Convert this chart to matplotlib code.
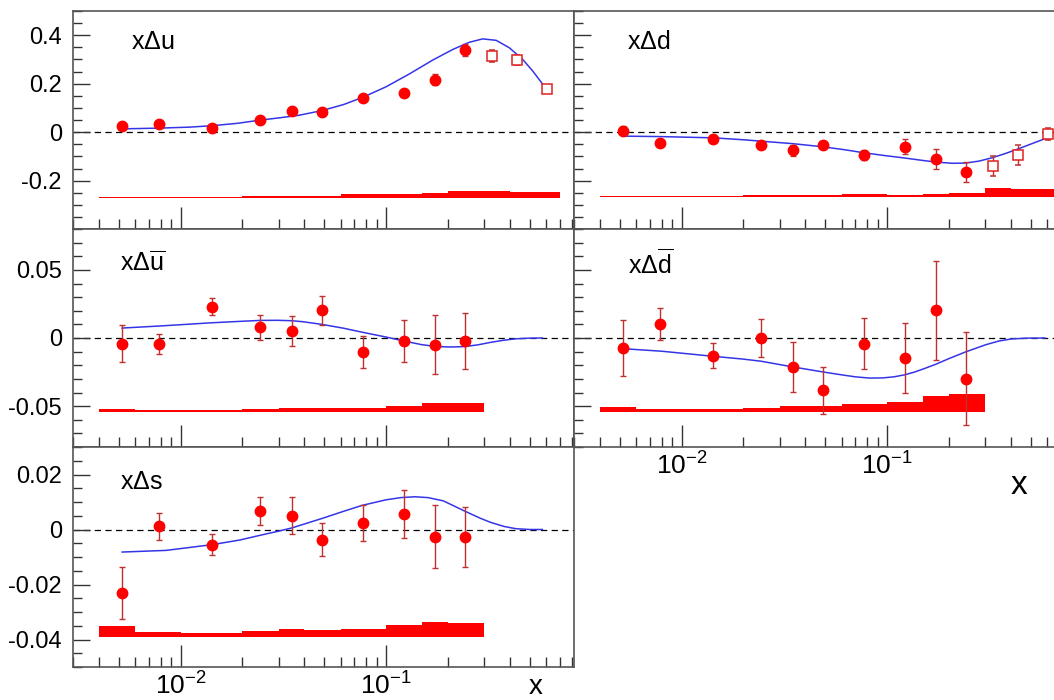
# Polarized PDFs from SIDIS: xDelta q for each flavour vs x
import matplotlib
matplotlib.use('Agg')
import matplotlib.pyplot as plt
import matplotlib.ticker as ticker
import numpy as np

plt.rcParams['font.family'] = ['Liberation Sans', 'DejaVu Sans']
plt.rcParams['mathtext.fontset'] = 'custom'
plt.rcParams['mathtext.rm'] = 'Liberation Sans'
plt.rcParams['axes.unicode_minus'] = False

# ---- data ----
x_pts = [0.0052, 0.0079, 0.0142, 0.0244, 0.0348, 0.0487, 0.0770, 0.122, 0.173, 0.242]
x_open = [0.326, 0.431, 0.605]

u_val = [0.026, 0.034, 0.018, 0.049, 0.088, 0.084, 0.141, 0.161, 0.217, 0.338]
u_err = [0.006, 0.006, 0.007, 0.008, 0.009, 0.009, 0.010, 0.012, 0.024, 0.024]
u_open_val = [0.315, 0.298, 0.180]
u_open_err = [0.024, 0.020, 0.006]

d_val = [0.007, -0.044, -0.029, -0.053, -0.075, -0.051, -0.095, -0.060, -0.111, -0.163]
d_err = [0.020, 0.008, 0.008, 0.010, 0.021, 0.010, 0.020, 0.031, 0.042, 0.041]
d_open_val = [-0.138, -0.095, -0.007]
d_open_err = [0.042, 0.041, 0.026]

ubar_val = [-0.0041, -0.0044, 0.0229, 0.0078, 0.0049, 0.0202, -0.0102, -0.0022, -0.0049, -0.0024]
ubar_err = [0.0135, 0.0072, 0.0063, 0.0091, 0.0111, 0.0107, 0.0118, 0.0156, 0.0215, 0.0206]

dbar_val = [-0.0076, 0.0105, -0.0129, 0.0, -0.0210, -0.0383, -0.0041, -0.0146, 0.0202, -0.0298]
dbar_err = [0.0206, 0.0118, 0.0093, 0.0138, 0.0183, 0.0173, 0.0185, 0.0257, 0.0366, 0.0339]

s_val = [-0.0232, 0.0012, -0.0055, 0.0067, 0.0050, -0.0037, 0.0024, 0.0057, -0.0026, -0.0028]
s_err = [0.0094, 0.0049, 0.0037, 0.0050, 0.0067, 0.0061, 0.0064, 0.0087, 0.0115, 0.0110]

# fit curves
u_fit_x = [0.0052, 0.0079, 0.0110, 0.0143, 0.019, 0.0244, 0.030, 0.0377, 0.0486, 0.062, 0.077,
           0.0997, 0.1295, 0.168, 0.2105, 0.254, 0.295, 0.343, 0.398, 0.462, 0.517, 0.579, 0.608]
u_fit_y = [0.014, 0.017, 0.021, 0.027, 0.037, 0.050, 0.059, 0.070, 0.089, 0.114, 0.144,
           0.187, 0.240, 0.297, 0.341, 0.371, 0.385, 0.379, 0.348, 0.300, 0.252, 0.197, 0.180]

d_fit_x = [0.00516, 0.0080, 0.0142, 0.0200, 0.0245, 0.0347, 0.0487, 0.0620, 0.0762, 0.097, 0.121,
           0.148, 0.173, 0.208, 0.241, 0.280, 0.325, 0.375, 0.427, 0.510, 0.601]
d_fit_y = [-0.016, -0.018, -0.023, -0.031, -0.037, -0.047, -0.060, -0.072, -0.084, -0.096, -0.106,
           -0.116, -0.123, -0.128, -0.127, -0.119, -0.105, -0.088, -0.071, -0.046, -0.023]

ubar_fit_x = [0.0052, 0.0079, 0.0143, 0.0200, 0.0244, 0.0295, 0.0345, 0.0391, 0.0487, 0.062, 0.0767,
              0.1, 0.122, 0.148, 0.173, 0.205, 0.241, 0.280, 0.322, 0.375, 0.427, 0.50, 0.575]
ubar_fit_y = [0.0073, 0.0088, 0.0112, 0.0123, 0.0129, 0.0130, 0.0127, 0.0120, 0.0100, 0.0072, 0.0042,
              0.0007, -0.0022, -0.0048, -0.0062, -0.0066, -0.0063, -0.0050, -0.0032, -0.0016, -0.0006, -0.0001, 0.0]

dbar_fit_x = [0.00516, 0.0080, 0.0142, 0.0200, 0.0245, 0.0347, 0.0487, 0.0598, 0.0700, 0.0820, 0.095,
              0.108, 0.121, 0.136, 0.152, 0.173, 0.2, 0.241, 0.301, 0.350, 0.402, 0.48, 0.585]
dbar_fit_y = [-0.0078, -0.0097, -0.0134, -0.0155, -0.0171, -0.0212, -0.0249, -0.0270, -0.0285, -0.0294, -0.0293,
              -0.0285, -0.0271, -0.0250, -0.0224, -0.0192, -0.0151, -0.0102, -0.0050, -0.0022, -0.0007, -0.0001, 0.0]

s_fit_x = [0.0052, 0.0085, 0.0143, 0.0195, 0.0244, 0.0300, 0.0349, 0.0487, 0.062, 0.0767, 0.1, 0.118,
           0.138, 0.16, 0.190, 0.241, 0.285, 0.322, 0.375, 0.427, 0.50, 0.575]
s_fit_y = [-0.0082, -0.0076, -0.0055, -0.0038, -0.0021, -0.0006, 0.0006, 0.0040, 0.0066, 0.0088, 0.0108, 0.0116,
           0.0119, 0.0116, 0.0104, 0.0067, 0.0042, 0.0026, 0.0011, 0.0003, 0.0, 0.0]

# systematic bands (bin edges, baseline, height)
edges_val = [0.004, 0.006, 0.01, 0.02, 0.03, 0.04, 0.06, 0.1, 0.15, 0.2, 0.3, 0.4, 0.7]
edges_sea = [0.004, 0.006, 0.01, 0.02, 0.03, 0.04, 0.06, 0.1, 0.15, 0.2, 0.3]
u_band = [0.005, 0.005, 0.005, 0.008, 0.008, 0.008, 0.014, 0.014, 0.019, 0.026, 0.026, 0.022]
d_band = [0.005, 0.005, 0.005, 0.008, 0.008, 0.008, 0.012, 0.008, 0.012, 0.016, 0.038, 0.033]
ubar_band = [0.0024, 0.0017, 0.0017, 0.0022, 0.0032, 0.0032, 0.0032, 0.0046, 0.0066, 0.0066]
dbar_band = [0.0037, 0.0020, 0.0020, 0.0030, 0.0044, 0.0044, 0.0054, 0.0073, 0.0115, 0.0127]
s_band = [0.0040, 0.0018, 0.0015, 0.0022, 0.0030, 0.0026, 0.0030, 0.0043, 0.0057, 0.0053]

W, H = 1054, 700
fig = plt.figure(figsize=(W / 100, H / 100), dpi=100)


def make_axes(px_left, px_top, px_bottom, px_width=501):
    return fig.add_axes([px_left / W, 1 - px_bottom / H, px_width / W, (px_bottom - px_top) / H])


def style(ax, ylim, ymaj, ymin, ylabels=True, xlabels=False):
    ax.set_xscale('log')
    ax.set_xlim(0.003, 0.82)
    ax.set_ylim(*ylim)
    ax.xaxis.set_major_locator(ticker.LogLocator(base=10, numticks=10))
    ax.xaxis.set_minor_locator(ticker.LogLocator(base=10, subs=np.arange(2, 10), numticks=20))
    ax.xaxis.set_minor_formatter(ticker.NullFormatter())
    ax.yaxis.set_major_locator(ticker.MultipleLocator(ymaj))
    ax.yaxis.set_minor_locator(ticker.MultipleLocator(ymin))
    ax.tick_params(which='both', direction='in', top=False, right=False, color='#333333', width=1.0)
    ax.tick_params(axis='x', which='major', length=16, pad=4, labelsize=19)
    ax.tick_params(axis='x', which='minor', length=7.5)
    ax.tick_params(axis='y', which='major', length=12.5, pad=8, labelsize=17)
    ax.tick_params(axis='y', which='minor', length=6.5)
    if ylabels:
        ax.yaxis.set_major_formatter(ticker.FuncFormatter(lambda v, p: '%g' % round(v, 4)))
    else:
        ax.yaxis.set_major_formatter(ticker.NullFormatter())
    if xlabels:
        ax.xaxis.set_major_formatter(ticker.FuncFormatter(
            lambda v, p: r'$\mathregular{10^{%d}}$' % int(round(np.log10(v)))))
    else:
        ax.xaxis.set_major_formatter(ticker.NullFormatter())
    for sp in ax.spines.values():
        sp.set_color('#555555')
        sp.set_linewidth(1.2)
    ax.axhline(0, color='black', ls=(0, (5, 3.5)), lw=0.9, zorder=1)


def draw(ax, edges, band, base, fx, fy, vals, errs, ovals=None, oerrs=None):
    tops = [base + h for h in band]
    ax.stairs(tops, edges, baseline=base, fill=True, color='#ff0000', lw=0, zorder=2)
    ax.plot(fx, fy, color='#3535e8', lw=1.1, zorder=3)
    ax.errorbar(x_pts, vals, yerr=errs, fmt='o', color='#ff0000', ms=7.5, mec='#ff0000',
                ecolor='#c03030', elinewidth=1.0, capsize=2.5, capthick=1.0, zorder=4)
    if ovals is not None:
        ax.errorbar(x_open, ovals, yerr=oerrs, fmt='s', color='#e02020', ms=7, mfc='white',
                    mec='#e02020', mew=1.1, ecolor='#c03030', elinewidth=1.0, capsize=2.5,
                    capthick=1.0, zorder=4)


# top-left: x Delta u
ax1 = make_axes(73, 11, 229)
style(ax1, (-0.399, 0.5), 0.2, 0.05)
draw(ax1, edges_val, u_band, -0.270, u_fit_x, u_fit_y, u_val, u_err, u_open_val, u_open_err)
ax1.text(0.115, 0.86, r'x$\Delta$u', transform=ax1.transAxes, fontsize=18, va='center')

# top-right: x Delta d
ax2 = make_axes(574, 11, 229)
style(ax2, (-0.399, 0.5), 0.2, 0.05, ylabels=False)
draw(ax2, edges_val, d_band, -0.268, d_fit_x, d_fit_y, d_val, d_err, d_open_val, d_open_err)
ax2.text(0.106, 0.86, r'x$\Delta$d', transform=ax2.transAxes, fontsize=18, va='center')

# middle-left: x Delta ubar
ax3 = make_axes(73, 229, 447)
style(ax3, (-0.08, 0.08), 0.05, 0.01)
draw(ax3, edges_sea, ubar_band, -0.0546, ubar_fit_x, ubar_fit_y, ubar_val, ubar_err)
ax3.text(0.094, 0.845, r'x$\Delta\mathregular{\overline{u}}$', transform=ax3.transAxes,
         fontsize=18, va='center')

# middle-right: x Delta dbar
ax4 = make_axes(574, 229, 447)
style(ax4, (-0.08, 0.08), 0.05, 0.01, ylabels=False, xlabels=True)
draw(ax4, edges_sea, dbar_band, -0.0541, dbar_fit_x, dbar_fit_y, dbar_val, dbar_err)
ax4.text(0.108, 0.84, r'x$\Delta\mathregular{\overline{d}}$', transform=ax4.transAxes,
         fontsize=18, va='center')

# bottom-left: x Delta s
ax5 = make_axes(73, 447, 667)
style(ax5, (-0.05, 0.03), 0.02, 0.005, xlabels=True)
draw(ax5, edges_sea, s_band, -0.0392, s_fit_x, s_fit_y, s_val, s_err)
ax5.text(0.094, 0.84, r'x$\Delta$s', transform=ax5.transAxes, fontsize=18, va='center')

# axis titles
fig.text(1019 / W, 1 - 486 / H, 'x', fontsize=24, ha='center', va='center')
fig.text(536 / W, 0.0, 'x', fontsize=20, ha='center', va='bottom')

fig.savefig('out.png', dpi=100)
